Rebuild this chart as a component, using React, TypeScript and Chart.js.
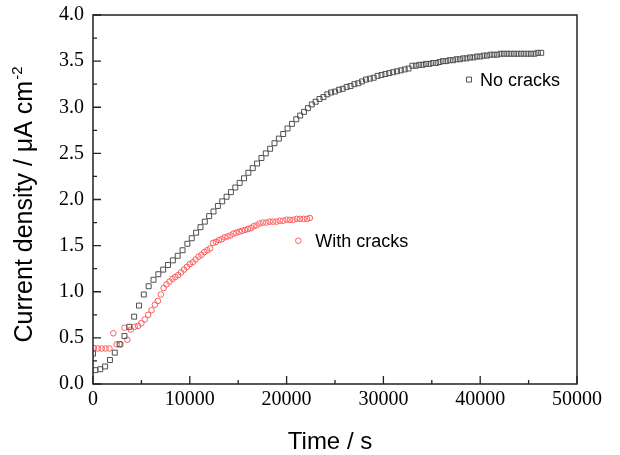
import React, { useEffect, useRef } from 'react';
import Chart from 'chart.js/auto';

// ---- data ----
const seriesNames = ['No cracks', 'With cracks'];

const noCracksTime = [
  0, 250, 750, 1250, 1750, 2250, 2750, 3250, 3750, 4250, 4750, 5250, 5750, 6250, 6750, 7250, 7750, 8250, 8750, 9250,
  9750, 10200, 10650, 11100, 11550, 12000, 12450, 12900, 13350, 13800, 14250, 14700, 15150, 15600, 16050, 16500,
  16950, 17400, 17850, 18300, 18750, 19200, 19650, 20100, 20550, 21000, 21400, 21800, 22200, 22600, 23000, 23400,
  23800, 24200, 24600, 25000, 25400, 25800, 26200, 26600, 27000, 27400, 27800, 28200, 28600, 29000, 29400, 29800,
  30200, 30600, 31000, 31400, 31800, 32200, 32600, 33000, 33350, 33700, 34050, 34400, 34750, 35100, 35450, 35800,
  36150, 36500, 36850, 37200, 37550, 37900, 38250, 38600, 38950, 39300, 39650, 40000, 40350, 40700, 41050, 41400,
  41750, 42100, 42450, 42800, 43150, 43500, 43850, 44200, 44550, 44900, 45250, 45600, 45950, 46300,
];
const noCracksCurrent = [
  0.33, 0.15, 0.16, 0.19, 0.26, 0.34, 0.43, 0.52, 0.62, 0.73, 0.85, 0.97, 1.06, 1.13, 1.19, 1.24, 1.29, 1.34, 1.39, 1.45,
  1.52, 1.58, 1.64, 1.70, 1.76, 1.82, 1.87, 1.93, 1.98, 2.03, 2.08, 2.13, 2.18, 2.23, 2.29, 2.34,
  2.39, 2.45, 2.50, 2.55, 2.61, 2.66, 2.71, 2.77, 2.82, 2.87, 2.91, 2.95, 2.99, 3.03, 3.06, 3.09,
  3.11, 3.14, 3.16, 3.17, 3.19, 3.20, 3.22, 3.23, 3.25, 3.26, 3.28, 3.30, 3.31, 3.32, 3.34, 3.35,
  3.36, 3.37, 3.38, 3.39, 3.40, 3.41, 3.42, 3.45, 3.45, 3.46, 3.46, 3.47, 3.47, 3.48, 3.48, 3.49,
  3.50, 3.50, 3.51, 3.51, 3.52, 3.52, 3.53, 3.53, 3.54, 3.54, 3.55, 3.55, 3.56, 3.56, 3.57, 3.57,
  3.57, 3.58, 3.58, 3.58, 3.58, 3.58, 3.58, 3.58, 3.58, 3.58, 3.58, 3.58, 3.59, 3.59,
];

const withCracksTime = [
  100, 500, 900, 1300, 1700, 2100, 2450, 2850, 3250, 3550, 3900, 4300, 4650, 5000, 5350, 5700, 6050, 6400, 6700, 7000,
  7300, 7600, 7900, 8200, 8500, 8800, 9100, 9400, 9700, 10000, 10300, 10600, 10900, 11200, 11500, 11800, 12100,
  12400, 12700, 13000, 13300, 13600, 13900, 14200, 14500, 14800, 15100, 15400, 15700, 16000, 16300, 16600, 16900,
  17200, 17550, 17900, 18250, 18600, 18950, 19300, 19650, 20000, 20350, 20700, 21050, 21400, 21750, 22100, 22400,
];
const withCracksCurrent = [
  0.39, 0.385, 0.385, 0.385, 0.385, 0.55, 0.43, 0.43, 0.61, 0.48, 0.59, 0.62, 0.63, 0.66, 0.70, 0.75, 0.80, 0.86, 0.90, 0.97,
  1.04, 1.08, 1.11, 1.14, 1.16, 1.18, 1.21, 1.24, 1.27, 1.30, 1.32, 1.35, 1.38, 1.40, 1.43, 1.45, 1.47,
  1.53, 1.54, 1.56, 1.57, 1.59, 1.60, 1.61, 1.63, 1.64, 1.65, 1.66, 1.67, 1.68, 1.69, 1.71, 1.72,
  1.74, 1.75, 1.75, 1.76, 1.76, 1.76, 1.77, 1.77, 1.78, 1.78, 1.78, 1.79, 1.79, 1.79, 1.79, 1.80,
];

const xTickValues = [0, 10000, 20000, 30000, 40000, 50000];
const yTickValues = [0, 0.5, 1.0, 1.5, 2.0, 2.5, 3.0, 3.5, 4.0];

// label anchor positions in data coordinates
const labelAnchorTime = [38840, 21210];
const labelAnchorCurrent = [3.30, 1.553];

const xTitle = 'Time / s';
const yTitleMain = 'Current density / \u03bcA cm';
const yTitleSup = '-2';

const BLACK = '#505050';
const RED = '#ff5c5c';

const sansFont = '"Liberation Sans", Arial, Helvetica, sans-serif';
const serifFont = '"Liberation Serif", "Times New Roman", serif';

const decoPlugin = {
  id: 'deco',
  afterDraw(chart: any) {
    const { ctx, chartArea: a, scales } = chart;
    const xs = scales.x;
    const ys = scales.y;
    ctx.save();
    // frame
    ctx.strokeStyle = '#222';
    ctx.lineWidth = 1.5;
    ctx.strokeRect(a.left, a.top, a.right - a.left, a.bottom - a.top);
    // inward ticks
    ctx.beginPath();
    ctx.lineWidth = 1.3;
    xTickValues.forEach((v, i) => {
      const px = xs.getPixelForValue(v);
      ctx.moveTo(px, a.bottom);
      ctx.lineTo(px, a.bottom - 8);
      if (i < xTickValues.length - 1) {
        const mid = xs.getPixelForValue((v + xTickValues[i + 1]) / 2);
        ctx.moveTo(mid, a.bottom);
        ctx.lineTo(mid, a.bottom - 4);
      }
    });
    yTickValues.forEach((v, i) => {
      const py = ys.getPixelForValue(v);
      ctx.moveTo(a.left, py);
      ctx.lineTo(a.left + 8, py);
      if (i < yTickValues.length - 1) {
        const mid = ys.getPixelForValue((v + yTickValues[i + 1]) / 2);
        ctx.moveTo(a.left, mid);
        ctx.lineTo(a.left + 4, mid);
      }
    });
    ctx.stroke();

    // axis titles
    ctx.fillStyle = '#000';
    ctx.font = `24px ${sansFont}`;
    ctx.textAlign = 'center';
    ctx.textBaseline = 'alphabetic';
    ctx.fillText(xTitle, (a.left + a.right) / 2 - 5, 449);

    ctx.save();
    ctx.translate(32, 205);
    ctx.rotate(-Math.PI / 2);
    ctx.textAlign = 'left';
    ctx.font = `25px ${sansFont}`;
    const w1 = ctx.measureText(yTitleMain).width;
    ctx.font = `15px ${sansFont}`;
    const w2 = ctx.measureText(yTitleSup).width;
    const start = -(w1 + w2) / 2;
    ctx.font = `25px ${sansFont}`;
    ctx.fillText(yTitleMain, start, 0);
    ctx.font = `15px ${sansFont}`;
    ctx.fillText(yTitleSup, start + w1 + 1, -10);
    ctx.restore();

    // series labels
    ctx.font = `18px ${sansFont}`;
    ctx.textAlign = 'left';
    ctx.textBaseline = 'middle';
    ctx.lineWidth = 1;
    seriesNames.forEach((name, i) => {
      const px = xs.getPixelForValue(labelAnchorTime[i]);
      const py = ys.getPixelForValue(labelAnchorCurrent[i]);
      ctx.beginPath();
      if (i === 0) {
        ctx.strokeStyle = BLACK;
        ctx.rect(px - 2.5, py - 2.5, 5, 5);
      } else {
        ctx.strokeStyle = RED;
        ctx.arc(px, py, 2.8, 0, Math.PI * 2);
      }
      ctx.stroke();
      ctx.fillStyle = '#000';
      ctx.fillText(name, px + (i === 0 ? 11 : 17), py + 1);
    });
    ctx.restore();
  },
};

export default function App() {
  const canvasRef = useRef<HTMLCanvasElement | null>(null);

  useEffect(() => {
    document.body.style.margin = '0';
    const canvas = canvasRef.current;
    if (!canvas) return;
    const chart = new Chart(canvas, {
      type: 'scatter',
      data: {
        datasets: [
          {
            label: seriesNames[0],
            data: noCracksTime.map((t, i) => ({ x: t, y: noCracksCurrent[i] })),
            pointStyle: 'rect',
            pointRadius: 3.5,
            borderColor: BLACK,
            backgroundColor: 'rgba(0,0,0,0)',
            borderWidth: 1,
          },
          {
            label: seriesNames[1],
            data: withCracksTime.map((t, i) => ({ x: t, y: withCracksCurrent[i] })),
            pointStyle: 'circle',
            pointRadius: 2.8,
            borderColor: RED,
            backgroundColor: 'rgba(0,0,0,0)',
            borderWidth: 1,
          },
        ],
      },
      options: {
        responsive: false,
        animation: false,
        devicePixelRatio: 1,
        layout: { padding: { top: 15, right: 43, left: 0, bottom: 0 } },
        plugins: { legend: { display: false }, tooltip: { enabled: false }, title: { display: false } },
        scales: {
          x: {
            type: 'linear',
            min: 0,
            max: 50000,
            afterBuildTicks: (scale: any) => {
              scale.ticks = xTickValues.map((v) => ({ value: v }));
            },
            afterFit: (scale: any) => {
              scale.height = 71;
              scale.paddingLeft = 0;
              scale.paddingRight = 0;
            },
            grid: { display: false, drawTicks: false },
            border: { display: false },
            ticks: {
              padding: 4,
              maxRotation: 0,
              autoSkip: false,
              color: '#000',
              font: { family: serifFont, size: 20 },
              callback: (v: any) => String(v),
            },
          },
          y: {
            type: 'linear',
            min: 0,
            max: 4,
            afterBuildTicks: (scale: any) => {
              scale.ticks = yTickValues.map((v) => ({ value: v }));
            },
            afterFit: (scale: any) => {
              scale.width = 93;
              scale.paddingTop = 0;
              scale.paddingBottom = 0;
            },
            grid: { display: false, drawTicks: false },
            border: { display: false },
            ticks: {
              padding: 9,
              autoSkip: false,
              color: '#000',
              font: { family: serifFont, size: 20 },
              callback: (v: any) => Number(v).toFixed(1),
            },
          },
        },
      },
      plugins: [decoPlugin],
    });
    return () => chart.destroy();
  }, []);

  return (
    <div style={{ width: 620, height: 455 }}>
      <canvas ref={canvasRef} width={620} height={455} style={{ width: 620, height: 455, display: 'block' }} />
    </div>
  );
}
